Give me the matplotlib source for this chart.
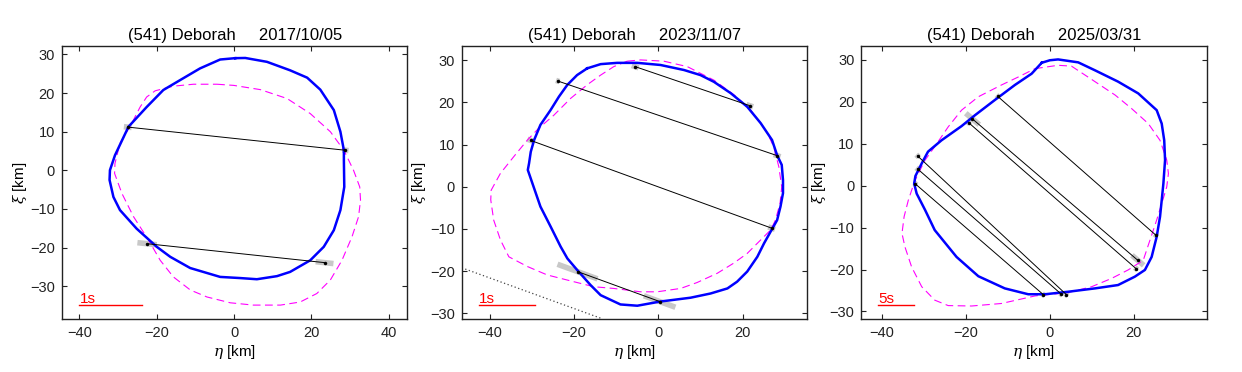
import matplotlib
matplotlib.use("Agg")
import matplotlib.pyplot as plt
import numpy as np

plt.rcParams['font.family'] = ['Liberation Sans', 'DejaVu Sans']
plt.rcParams['mathtext.fontset'] = 'dejavuserif'

titles = ["(541) Deborah     2017/10/05",
          "(541) Deborah     2023/11/07",
          "(541) Deborah     2025/03/31"]

# ---------------- Panel 1 (2017/10/05) ----------------
p1_blue_eta = [0.3, 2.9, 8.5, 14.5, 18.9, 22.3, 25.8, 27.5, 28.4, 28.4, 28.5, 27.5, 25.8, 23.2,
               19.7, 14.5, 11.1, 5.9, 1.6, -3.6, -11.35, -16.5, -20.0, -25.2, -29.5, -31.2,
               -32.2, -32.1, -30.8, -27.3, -22.6, -18.3, -13.9, -8.8, -3.6]
p1_blue_xi = [29.05, 29.1, 28.1, 25.9, 24.0, 20.9, 15.6, 10.0, 5.2, 2.6, -4.3, -10.3, -15.5, -19.8,
              -23.3, -26.3, -27.4, -28.2, -27.9, -27.6, -25.3, -22.4, -19.8, -15.1, -10.3, -6.9,
              -2.5, 0.05, 3.9, 11.3, 16.4, 20.8, 23.4, 26.4, 28.7]
p1_mag_eta = [-4.4, -0.1, 6.8, 13.7, 19.7, 24.9, 28.4, 30.9, 32.5, 32.7, 32.2, 30.5, 27.9, 24.9,
              21.4, 17.1, 12.0, 5.0, -1.0, -7.0, -11.3, -15.7, -19.1, -22.1, -26.0, -29.0, -30.9,
              -30.8, -29.5, -26.5, -24.3, -22.6, -20.4, -15.7, -10.5]
p1_mag_xi = [22.3, 22.0, 20.9, 18.6, 14.7, 10.0, 5.2, 0.0, -4.3, -7.7, -12.0, -17.2, -23.3, -28.4,
             -31.9, -34.1, -34.9, -34.9, -34.3, -32.8, -31.0, -27.6, -23.3, -18.1, -12.0, -6.0, -0.8,
             1.8, 7.0, 12.1, 16.4, 19.0, 20.6, 21.8, 22.3]
p1_chord_eta0 = [-27.5, -22.5]
p1_chord_xi0 = [11.2, -19.0]
p1_chord_eta1 = [28.8, 23.4]
p1_chord_xi1 = [5.2, -23.9]
p1_err0 = [1.0, 2.5]
p1_err1 = [0.8, 2.3]

# ---------------- Panel 2 (2023/11/07) ----------------
p2_blue_eta = [-16.9, -13.7, -9.8, -5.0, 0.5, 6.1, 10.0, 13.2, 17.2, 21.1, 24.3, 27.0, 28.2, 29.3,
               29.6, 29.6, 29.0, 28.2, 26.9, 25.1, 23.5, 21.1, 18.7, 16.4, 12.4, 7.65, 3.7, 0.5,
               -5.0, -9.0, -13.7, -16.1, -19.3, -21.6, -23.2, -25.6, -28.0, -29.9, -31.0, -30.7,
               -30.3, -29.5, -28.0, -25.6, -23.6, -21.6, -19.3]
p2_blue_xi = [28.1, 29.1, 29.4, 29.4, 28.9, 27.7, 26.5, 24.9, 22.2, 19.0, 15.1, 11.1, 7.5, 5.2,
              1.6, -1.5, -4.7, -7.9, -10.2, -13.4, -16.6, -20.1, -22.5, -24.1, -25.3, -26.3, -26.8,
              -27.2, -28.2, -27.9, -25.7, -23.3, -19.7, -17.0, -14.2, -9.4, -4.7, 0.8, 4.0, 5.6,
              8.3, 11.1, 14.7, 18.2, 21.4, 24.2, 26.5]
p2_mag_eta = [-7.4, -4.2, 1.3, 6.9, 13.2, 18.0, 21.9, 24.3, 25.9, 27.4, 28.6, 29.3, 28.9, 27.8,
              26.7, 24.3, 21.1, 17.9, 14.0, 9.2, 5.3, -0.3, -4.2, -10.6, -15.3, -20.1, -26.4,
              -31.1, -35.5, -37.5, -39.1, -39.8, -39.7, -37.5, -34.3, -31.1, -28.4, -24.8, -20.8,
              -16.9, -13.7, -10.6]
p2_mag_xi = [29.8, 30.1, 29.8, 28.5, 25.3, 21.8, 18.2, 15.1, 12.7, 9.5, 4.8, 0.0, -3.9, -7.9,
             -10.2, -12.6, -15.8, -18.1, -20.5, -22.7, -24.1, -24.9, -24.9, -24.1, -23.7, -22.5,
             -20.9, -18.9, -16.6, -12.6, -7.9, -3.1, -0.8, 3.2, 7.2, 11.1, 13.9, 17.0, 21.0, 24.2,
             26.5, 28.5]
p2_chord_eta0 = [-5.5, -23.9, -30.3, -19.2]
p2_chord_xi0 = [28.5, 25.1, 11.0, -20.1]
p2_chord_eta1 = [21.7, 28.2, 26.9, 0.3]
p2_chord_xi1 = [19.25, 7.4, -9.8, -27.2]
p2_err0 = [0.8, 0.4, 0.8, 4.75]
p2_err1 = [0.8, 0.8, 0.8, 3.75]
p2_miss_eta = [-46.7, -13.3]
p2_miss_xi = [-19.2, -31.3]

# ---------------- Panel 3 (2025/03/31) ----------------
p3_blue_eta = [-1.9, 0.05, 2.0, 6.8, 10.8, 16.3, 21.1, 25.5, 26.7, 27.3, 27.5, 27.1, 26.7, 26.3,
               25.5, 24.3, 22.7, 20.3, 16.3, 10.8, 4.4, -1.1, -5.1, -10.7, -17.0, -22.2, -27.4,
               -29.7, -31.7, -32.3, -32.0, -30.5, -29.0, -25.8, -21.0, -17.8, -13.1, -8.3, -4.3]
p3_blue_xi = [29.3, 29.9, 30.1, 29.4, 27.5, 24.8, 22.0, 18.0, 14.8, 10.8, 6.1, 0.5, -3.5, -7.4,
              -12.2, -17.0, -20.1, -21.7, -23.7, -24.5, -25.3, -25.9, -25.9, -24.5, -21.6, -17.0,
              -10.6, -5.8, -1.9, 0.5, 2.3, 5.3, 8.1, 10.8, 14.2, 16.8, 20.4, 24.0, 26.7]
p3_mag_eta = [-3.5, 2.0, 5.2, 10.8, 15.6, 19.5, 23.5, 26.3, 27.9, 28.3, 27.9, 26.7, 25.5, 23.9,
              22.3, 18.7, 14.8, 10.0, 4.4, -3.5, -11.5, -18.6, -24.2, -27.4, -30.5, -32.9, -34.5,
              -35.2, -34.7, -33.7, -32.1, -29.7, -27.4, -24.2, -21.0, -17.0, -11.5, -7.5]
p3_mag_xi = [27.9, 28.7, 28.5, 24.8, 21.6, 18.4, 14.8, 10.8, 6.1, 2.9, -0.3, -4.3, -8.2, -13.0,
             -17.8, -20.1, -22.1, -24.1, -25.5, -26.3, -28.1, -28.7, -28.6, -27.3, -24.1, -19.4,
             -14.6, -11.4, -7.4, -3.5, 1.3, 6.1, 9.3, 14.0, 18.0, 21.2, 24.0, 25.9]
p3_chord_eta0 = [-12.4, -18.4, -19.3, -31.5, -31.5, -32.0]
p3_chord_xi0 = [21.3, 15.9, 15.0, 7.1, 4.0, 0.4]
p3_chord_eta1 = [25.3, 21.0, 20.6, 4.0, 2.8, -1.5]
p3_chord_xi1 = [-11.8, -17.8, -19.8, -26.0, -25.9, -26.0]
p3_err0 = [0.3, 1.6, 0.3, 0.3, 0.3, 0.3]
p3_err1 = [0.3, 1.4, 0.3, 0.3, 0.3, 0.3]

# scale bars (start eta, end eta, xi, label)
scale_eta0 = [-40.0, -42.6, -40.9]
scale_eta1 = [-23.9, -29.4, -32.3]
scale_xi = [-34.9, -28.0, -28.5]
scale_label = ["1s", "1s", "5s"]

xlims = [(-44.5, 44.8), (-46.7, 35.3), (-44.9, 37.4)]
ylims = [(-38.5, 32.2), (-31.35, 33.4), (-31.8, 33.3)]
xticks = [[-40, -20, 0, 20, 40], [-40, -20, 0, 20], [-40, -20, 0, 20]]
yticks = [-30, -20, -10, 0, 10, 20, 30]
lefts = [62 / 1242, 461.7 / 1242, 861.3 / 1242]
width = 345.3 / 1242
bottom = 1 - 319 / 372
height = 273 / 372

panels = [
    (p1_blue_eta, p1_blue_xi, p1_mag_eta, p1_mag_xi, p1_chord_eta0, p1_chord_xi0,
     p1_chord_eta1, p1_chord_xi1, p1_err0, p1_err1),
    (p2_blue_eta, p2_blue_xi, p2_mag_eta, p2_mag_xi, p2_chord_eta0, p2_chord_xi0,
     p2_chord_eta1, p2_chord_xi1, p2_err0, p2_err1),
    (p3_blue_eta, p3_blue_xi, p3_mag_eta, p3_mag_xi, p3_chord_eta0, p3_chord_xi0,
     p3_chord_eta1, p3_chord_xi1, p3_err0, p3_err1),
]

fig = plt.figure(figsize=(12.42, 3.72), dpi=100)

for i, (be, bx, me, mx, ce0, cx0, ce1, cx1, er0, er1) in enumerate(panels):
    ax = fig.add_axes([lefts[i], bottom, width, height])
    # magenta dashed model
    ax.plot(list(me) + [me[0]], list(mx) + [mx[0]], color='#ff00ff', lw=0.8,
            dashes=(7, 4), zorder=2)
    # chords with error segments
    for a0, b0, a1, b1, e0, e1 in zip(ce0, cx0, ce1, cx1, er0, er1):
        d = np.array([a1 - a0, b1 - b0])
        ux = d / d[0]  # per-unit-eta direction
        for (pa, pb), e in (((a0, b0), e0), ((a1, b1), e1)):
            ax.plot([pa - e * ux[0], pa + e * ux[0]], [pb - e * ux[1], pb + e * ux[1]],
                    color='#c8c8c8', lw=4, solid_capstyle='butt', zorder=1)
        ax.plot([a0, a1], [b0, b1], color='black', lw=0.7, zorder=4,
                marker='o', ms=2.5, markeredgewidth=0)
    # blue solid model
    ax.plot(list(be) + [be[0]], list(bx) + [bx[0]], color='#0000ff', lw=1.8, zorder=3)
    if i == 1:
        ax.plot(p2_miss_eta, p2_miss_xi, color='#444444', lw=0.9, linestyle=(0, (1, 2)),
                zorder=2)
    # scale bar
    ax.plot([scale_eta0[i], scale_eta1[i]], [scale_xi[i], scale_xi[i]], color='red', lw=1.0)
    ax.text(scale_eta0[i], scale_xi[i] - 0.3, scale_label[i], color='red', fontsize=11,
            ha='left', va='bottom')

    ax.set_xlim(*xlims[i])
    ax.set_ylim(*ylims[i])
    ax.set_xticks(xticks[i])
    ax.set_yticks(yticks)
    ax.tick_params(direction='in', top=True, right=True, length=3.5, width=0.8,
                   labelsize=10.5, pad=5, colors='#222222')
    for s in ax.spines.values():
        s.set_linewidth(1.0)
        s.set_color('#222222')
    ax.set_title(titles[i], fontsize=12, pad=4)
    ax.set_xlabel(r'$\eta$ [km]', fontsize=11, labelpad=2)
    ax.set_ylabel(r'$\xi$ [km]', fontsize=11, labelpad=1)

fig.savefig('out.png', dpi=100)
